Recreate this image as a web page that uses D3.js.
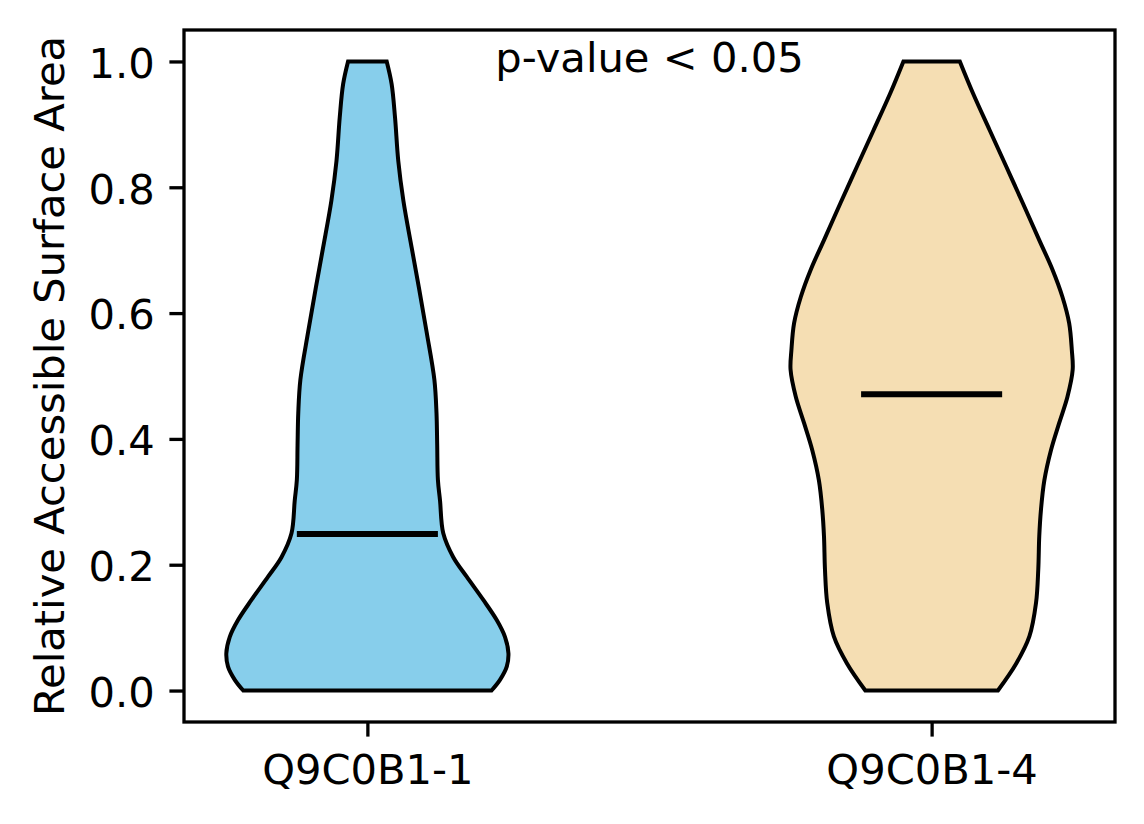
<!DOCTYPE html>
<html>
<head>
<meta charset="utf-8">
<script src="https://cdn.jsdelivr.net/npm/d3@7"></script>
<style>
  html, body { margin: 0; padding: 0; background: #fff; }
  svg { display: block; }
  text { font-family: "DejaVu Sans", sans-serif; }
</style>
</head>
<body>
<svg id="chart" width="1144" height="824"></svg>
<script>
// isoform names (x categories)
const categories = ["Q9C0B1-1", "Q9C0B1-4"];
const fills = ["#87CEEB", "#F5DEB3"];

// median RSA per isoform
const medians = [0.249, 0.471];

// kernel density profiles: [RSA value, relative density]
const density1 = [
  [0.000, 0.88], [0.017, 0.94], [0.038, 0.988], [0.059, 1.0], [0.085, 0.976],
  [0.112, 0.917], [0.144, 0.822], [0.181, 0.704], [0.212, 0.609], [0.250, 0.538],
  [0.302, 0.515], [0.335, 0.50], [0.390, 0.495], [0.441, 0.49], [0.494, 0.475],
  [0.570, 0.42], [0.641, 0.365], [0.704, 0.314], [0.779, 0.255], [0.842, 0.219],
  [0.911, 0.196], [0.964, 0.172], [1.000, 0.137]
];
const density2 = [
  [0.000, 0.47], [0.043, 0.60], [0.086, 0.693], [0.139, 0.74], [0.192, 0.756],
  [0.245, 0.763], [0.287, 0.775], [0.334, 0.799], [0.382, 0.846], [0.425, 0.904],
  [0.467, 0.963], [0.510, 1.0], [0.541, 0.994], [0.584, 0.975], [0.626, 0.927],
  [0.669, 0.857], [0.716, 0.763], [0.775, 0.646], [0.833, 0.529], [0.891, 0.411],
  [0.949, 0.294], [1.000, 0.20]
];
const densities = [density1, density2];

const yTicks = [0, 0.2, 0.4, 0.6, 0.8, 1.0];

const W = 1144, H = 824;
const margin = { top: 30, right: 29, bottom: 102, left: 184 };
const FS = 41.67;          // 10pt at 300 dpi
const tickLen = 14.6;      // 3.5pt
const spineW = 3.3;

const svg = d3.select("#chart");

const x = d3.scaleLinear()
  .domain([0.675, 2.325])
  .range([margin.left, W - margin.right]);
const y = d3.scaleLinear()
  .domain([-0.05, 1.05])
  .range([H - margin.bottom, margin.top]);

const halfWidth = 0.25; // violin max half width in x units

// violins
densities.forEach((dens, i) => {
  const pos = i + 1;
  const maxD = d3.max(dens, d => d[1]);
  const area = d3.area()
    .y(d => y(d[0]))
    .x0(d => x(pos - (d[1] / maxD) * halfWidth))
    .x1(d => x(pos + (d[1] / maxD) * halfWidth))
    .curve(d3.curveCatmullRom.alpha(0.5));
  svg.append("path")
    .datum(dens)
    .attr("d", area)
    .attr("fill", fills[i])
    .attr("stroke", "#000")
    .attr("stroke-width", 4)
    .attr("stroke-linejoin", "miter");
});

// median lines
svg.selectAll(".median")
  .data(medians)
  .enter()
  .append("line")
  .attr("class", "median")
  .attr("x1", (d, i) => x(i + 1 - halfWidth / 2))
  .attr("x2", (d, i) => x(i + 1 + halfWidth / 2))
  .attr("y1", d => y(d))
  .attr("y2", d => y(d))
  .attr("stroke", "#000")
  .attr("stroke-width", 6);

// y axis
const yAxis = svg.append("g")
  .attr("transform", `translate(${margin.left},0)`)
  .call(d3.axisLeft(y).tickValues(yTicks).tickFormat(d3.format(".1f"))
    .tickSize(tickLen).tickPadding(tickLen).tickSizeOuter(0));
yAxis.selectAll("text").attr("font-size", FS).attr("fill", "#000")
  .attr("font-family", "DejaVu Sans").attr("dy", "0.38em");

// x axis
const xAxis = svg.append("g")
  .attr("transform", `translate(0,${H - margin.bottom})`)
  .call(d3.axisBottom(x).tickValues([1, 2]).tickFormat((d, i) => categories[i])
    .tickSize(tickLen).tickPadding(tickLen).tickSizeOuter(0));
xAxis.selectAll("text").attr("font-size", FS).attr("fill", "#000")
  .attr("font-family", "DejaVu Sans").attr("dy", "0.79em");

svg.selectAll(".domain").remove();
svg.selectAll(".tick line").attr("stroke", "#000").attr("stroke-width", spineW);

// spines
svg.append("rect")
  .attr("x", margin.left)
  .attr("y", margin.top)
  .attr("width", W - margin.left - margin.right)
  .attr("height", H - margin.top - margin.bottom)
  .attr("fill", "none")
  .attr("stroke", "#000")
  .attr("stroke-width", spineW);

// y label
svg.append("text")
  .attr("transform", `translate(63.5,${(margin.top + H - margin.bottom) / 2}) rotate(-90)`)
  .attr("text-anchor", "middle")
  .attr("font-size", FS)
  .attr("fill", "#000")
  .text("Relative Accessible Surface Area");

// annotation
svg.append("text")
  .attr("x", (margin.left + W - margin.right) / 2)
  .attr("y", 72)
  .attr("text-anchor", "middle")
  .attr("font-size", FS)
  .attr("fill", "#000")
  .text("p-value < 0.05");
</script>
</body>
</html>
